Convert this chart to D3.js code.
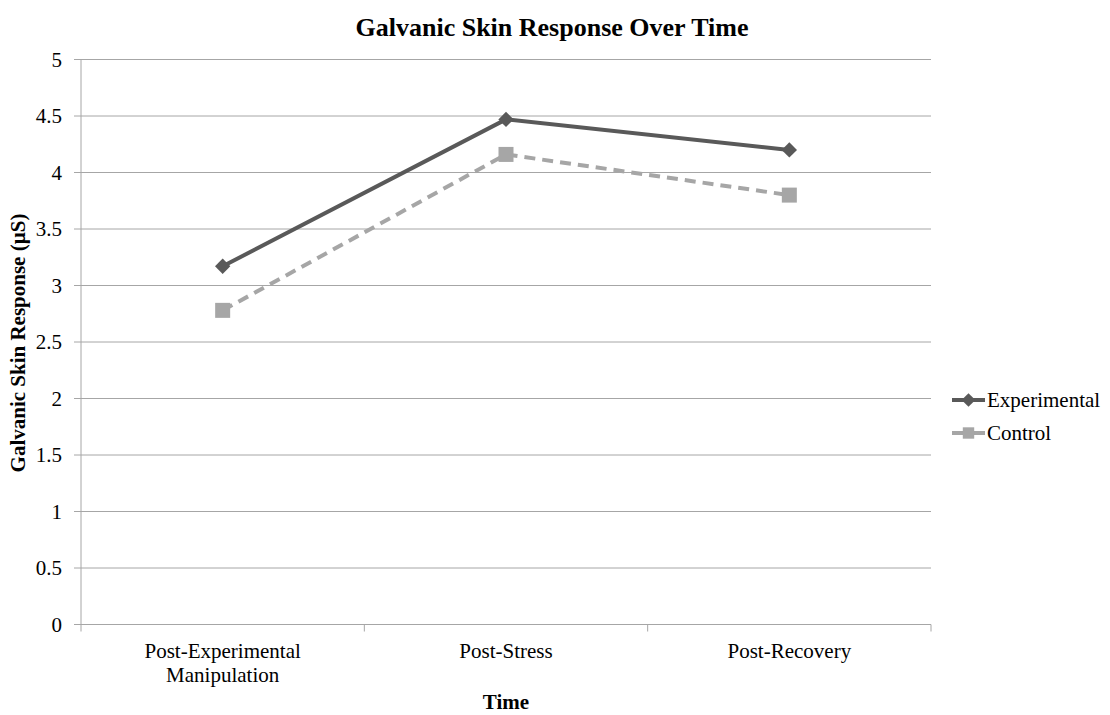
<!DOCTYPE html>
<html>
<head>
<meta charset="utf-8">
<script src="https://cdn.jsdelivr.net/npm/d3@7"></script>
<style>
  body { margin: 0; background: #fff; }
</style>
</head>
<body>
<div id="chart"></div>
<script>
'use strict';

var categories = ['Post-Experimental Manipulation', 'Post-Stress', 'Post-Recovery'];
var categoryLines = [['Post-Experimental', 'Manipulation'], ['Post-Stress'], ['Post-Recovery']];
var experimental = [3.17, 4.47, 4.2];
var control = [2.78, 4.16, 3.8];
var yTicks = [0, 0.5, 1, 1.5, 2, 2.5, 3, 3.5, 4, 4.5, 5];

var w = 1110, h = 715;
var plotLeft = 81, plotRight = 931, plotTop = 59.5, plotBottom = 624.5;
var serif = '"Liberation Serif", "Times New Roman", "DejaVu Serif", serif';

var svg = d3.select('#chart').append('svg')
  .attr('width', w)
  .attr('height', h)
  .attr('font-family', serif);

var x = d3.scaleBand().domain(categories).range([plotLeft, plotRight]);
var y = d3.scaleLinear().domain([0, 5]).range([plotBottom, plotTop]);

// gridlines
svg.append('g').selectAll('line').data(yTicks).enter()
  .append('line')
  .attr('x1', plotLeft - 7).attr('x2', plotRight)
  .attr('y1', function(d) { return y(d); })
  .attr('y2', function(d) { return y(d); })
  .attr('stroke', '#a6a6a6')
  .attr('stroke-width', 1);

// y tick labels
svg.append('g').selectAll('text').data(yTicks).enter()
  .append('text')
  .attr('x', plotLeft - 19)
  .attr('y', function(d) { return y(d); })
  .attr('dy', '0.35em')
  .attr('text-anchor', 'end')
  .attr('font-family', serif)
  .attr('font-size', 21)
  .text(function(d) { return d; });

// y axis line
svg.append('line')
  .attr('x1', plotLeft).attr('x2', plotLeft)
  .attr('y1', plotTop).attr('y2', plotBottom)
  .attr('stroke', '#a6a6a6');

// x tick marks at band edges
var edges = categories.map(function(c) { return x(c); }).concat([plotRight]);
svg.append('g').selectAll('line').data(edges).enter()
  .append('line')
  .attr('x1', function(d) { return d; })
  .attr('x2', function(d) { return d; })
  .attr('y1', plotBottom).attr('y2', plotBottom + 7)
  .attr('stroke', '#a6a6a6');

// x labels
var xl = svg.append('g').selectAll('text').data(categories).enter()
  .append('text')
  .attr('x', function(d) { return x(d) + x.bandwidth() / 2; })
  .attr('y', plotBottom + 33)
  .attr('text-anchor', 'middle')
  .attr('font-family', serif)
  .attr('font-size', 21);
xl.each(function(d, i) {
  var t = d3.select(this);
  categoryLines[i].forEach(function(s, j) {
    t.append('tspan')
      .attr('x', x(d) + x.bandwidth() / 2)
      .attr('dy', j === 0 ? 0 : 24)
      .text(s);
  });
});

var cx = function(d, i) { return x(categories[i]) + x.bandwidth() / 2; };

var line = d3.line()
  .x(function(d, i) { return cx(d, i); })
  .y(function(d) { return y(d); });

// control series
svg.append('path')
  .datum(control)
  .attr('d', line)
  .attr('fill', 'none')
  .attr('stroke', '#a6a6a6')
  .attr('stroke-width', 4)
  .attr('stroke-dasharray', '11,7');
svg.append('g').selectAll('rect').data(control).enter()
  .append('rect')
  .attr('x', function(d, i) { return cx(d, i) - 7.5; })
  .attr('y', function(d) { return y(d) - 7.5; })
  .attr('width', 15).attr('height', 15)
  .attr('fill', '#a6a6a6');

// experimental series
svg.append('path')
  .datum(experimental)
  .attr('d', line)
  .attr('fill', 'none')
  .attr('stroke', '#595959')
  .attr('stroke-width', 4);
var diamond = d3.symbol().type(d3.symbolDiamond2).size(150);
svg.append('g').selectAll('path').data(experimental).enter()
  .append('path')
  .attr('d', diamond)
  .attr('transform', function(d, i) { return 'translate(' + cx(d, i) + ',' + y(d) + ')'; })
  .attr('fill', '#595959');

// title
svg.append('text')
  .attr('x', 552)
  .attr('y', 36)
  .attr('text-anchor', 'middle')
  .attr('font-family', serif)
  .attr('font-size', 26)
  .attr('font-weight', 'bold')
  .text('Galvanic Skin Response Over Time');

// axis titles
svg.append('text')
  .attr('x', (plotLeft + plotRight) / 2)
  .attr('y', 709)
  .attr('text-anchor', 'middle')
  .attr('font-family', serif)
  .attr('font-size', 21)
  .attr('font-weight', 'bold')
  .text('Time');

svg.append('text')
  .attr('transform', 'translate(25,' + 343 + ') rotate(-90)')
  .attr('text-anchor', 'middle')
  .attr('font-family', serif)
  .attr('font-size', 21)
  .attr('font-weight', 'bold')
  .text('Galvanic Skin Response (\u00b5S)');

// legend
var legend = [
  { name: 'Experimental', color: '#595959', shape: 'diamond' },
  { name: 'Control', color: '#a6a6a6', shape: 'square' }
];
var lg = svg.append('g').selectAll('g').data(legend).enter()
  .append('g')
  .attr('transform', function(d, i) { return 'translate(952,' + (400 + i * 33) + ')'; });
lg.append('line')
  .attr('x1', 0).attr('x2', 33)
  .attr('stroke', function(d) { return d.color; })
  .attr('stroke-width', 4);
lg.append('path')
  .attr('d', function(d) {
    return d3.symbol().type(d.shape === 'diamond' ? d3.symbolDiamond2 : d3.symbolSquare)
      .size(d.shape === 'diamond' ? 120 : 130)();
  })
  .attr('transform', 'translate(16.5,0)')
  .attr('fill', function(d) { return d.color; });
lg.append('text')
  .attr('x', 35)
  .attr('dy', '0.35em')
  .attr('font-family', serif)
  .attr('font-size', 21)
  .text(function(d) { return d.name; });
</script>
</body>
</html>
